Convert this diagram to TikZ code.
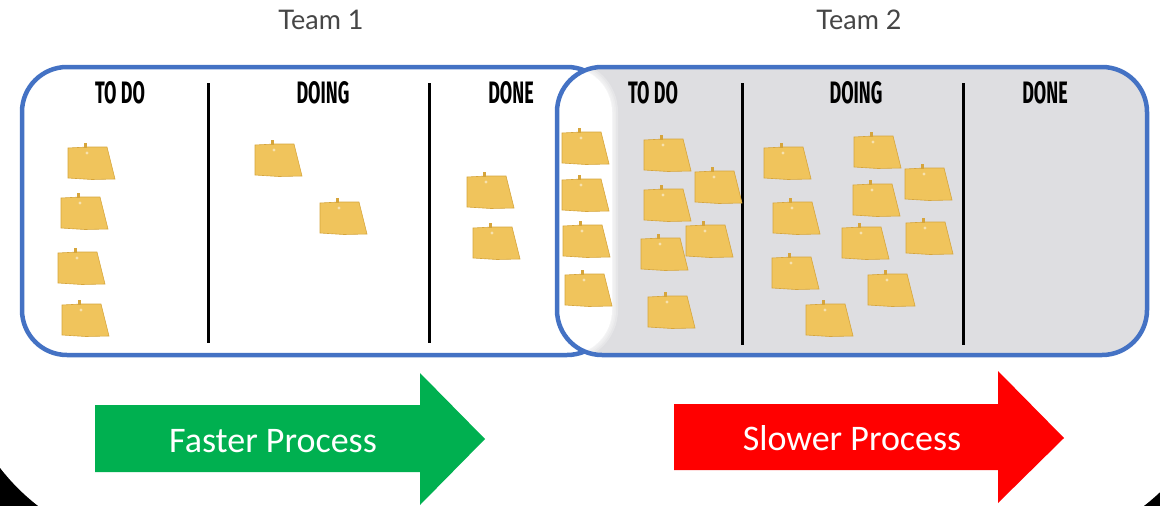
\documentclass[tikz,border=0pt]{standalone}
\usepackage{fontspec}
\setmainfont{Carlito}
\newfontfamily\teamfont{Lato}
\newfontfamily\hdrfont[FakeStretch=0.58]{Fira Sans}
\newfontfamily\arrowfont{Carlito}

\definecolor{boardblue}{RGB}{68,114,196}
\definecolor{boardgray}{RGB}{222,222,225}
\definecolor{notefill}{RGB}{240,196,92}
\definecolor{noteedge}{RGB}{214,165,60}
\definecolor{fastgreen}{RGB}{0,176,80}
\definecolor{slowred}{RGB}{255,0,0}
\definecolor{teamgray}{RGB}{70,70,70}

\tikzset{
  board/.style={rounded corners=45},
  boardline/.style={draw=boardblue, line width=4.5},
  divider/.style={draw=black, line width=3},
  teamlabel/.style={anchor=base, text=teamgray, font=\teamfont\fontsize{27}{32}\selectfont},
  colhead/.style={anchor=base, text=black, font=\hdrfont\bfseries\fontsize{31}{34}\selectfont},
  arrowlabel/.style={anchor=base, text=white, font=\arrowfont\fontsize{36}{42}\selectfont},
  stickynote/.pic={
    \fill[notefill, draw=noteedge, line width=0.6]
      (0,0) -- (20,-1) -- (39,-1) -- (47,31) -- (24,31.5) -- (0,30) -- cycle;
    \fill[noteedge] (16,-0.5) rectangle (19,-5);
    \fill[white, opacity=0.5] (19,5) circle (1.6);
  }
}

\begin{document}
\begin{tikzpicture}[x=1pt, y=-1pt]
\useasboundingbox (0,0) rectangle (1160,506);

% slide background with its rounded lower corners
\fill[black] (0,0) rectangle (1160,506);
\fill[white, rounded corners=208] (-43,-300) rectangle (1225,549);

% team 1 board
\fill[white, board] (22,67) rectangle (612,355);
\path[boardline, board] (22,67) rectangle (612,355);

% team 2 board, overlapping the end of team 1
\fill[boardgray, board] (557,67) rectangle (1147,355);
\begin{scope}
  \clip[board] (557,67) rectangle (1147,355);
  \fill[white, board] (22,67) rectangle (612,355);
  \foreach \w in {12,8,5,2}
    \draw[white, opacity=0.25, line width=\w, board] (22,67) rectangle (612,355);
\end{scope}
\path[boardline, board] (557,67) rectangle (1147,355);

% column dividers
\draw[divider] (208,83) -- (208,343);
\draw[divider] (429,83) -- (429,343);
\draw[divider] (742,83) -- (742,345);
\draw[divider] (963,83) -- (963,345);

% titles
\node[teamlabel] (team1) at (321,29) {Team 1};
\node[teamlabel] (team2) at (859,29) {Team 2};

\node[colhead] (todoA)  at (120,103) {TO DO};
\node[colhead] (doingA) at (323,103) {DOING};
\node[colhead] (doneA)  at (511,103) {DONE};
\node[colhead] (todoB)  at (653,103) {TO DO};
\node[colhead] (doingB) at (856,103) {DOING};
\node[colhead] (doneB)  at (1045,103) {DONE};

% sticky notes
\foreach \x/\y in {68/148, 61/198, 58/253, 62/305,
                   255/145, 320/203,
                   467/177, 473/228,
                   562/133, 562/180, 563/226, 565/275,
                   644/140, 695/172, 644/190, 686/226, 641/239, 648/297,
                   764/148, 854/137, 905/169, 773/203, 853/185,
                   842/228, 906/223, 772/258, 868/275, 806/305}
  \pic at (\x,\y) {stickynote};

% process arrows
\fill[fastgreen] (95,405) -- (420,405) -- (420,373) -- (485,439)
  -- (420,505) -- (420,472) -- (95,472) -- cycle;
\node[arrowlabel] (fast) at (273,452) {Faster Process};

\fill[slowred] (674,404) -- (998,404) -- (998,371) -- (1064,438)
  -- (998,503) -- (998,470) -- (674,470) -- cycle;
\node[arrowlabel] (slow) at (852,450) {Slower Process};
\end{tikzpicture}
\end{document}
